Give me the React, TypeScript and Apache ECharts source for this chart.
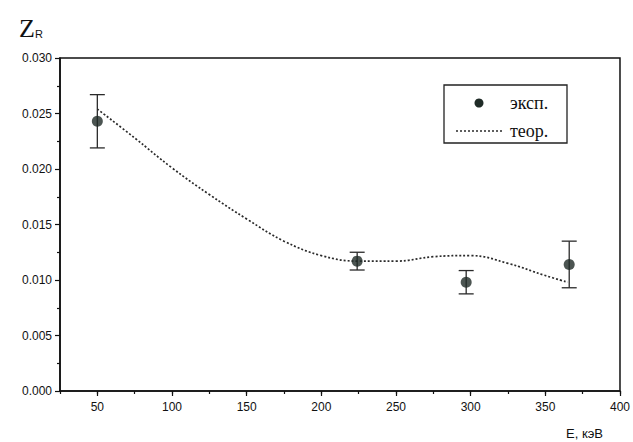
import React, { useEffect, useRef } from "react";
import * as echarts from "echarts";

const expE = [50, 224, 297, 366];
const expZ = [0.0243, 0.0117, 0.0098, 0.0114];
const expErr = [0.0024, 0.0008, 0.00105, 0.0021];

const theoE = [50, 75, 100, 125, 150, 175, 200, 225, 250, 275, 300, 325, 350, 365];
const theoZ = [0.0254, 0.0228, 0.0201, 0.0177, 0.0155, 0.0135, 0.0122, 0.0117, 0.0117, 0.0121, 0.0122, 0.0115, 0.0104, 0.0098];

const xMajorTicks = [50, 100, 150, 200, 250, 300, 350, 400];

const legendExp = "эксп.";
const legendTheo = "теор.";
const xName = "E, кэВ";

export default function App() {
  const ref = useRef<HTMLDivElement>(null);
  useEffect(() => {
    if (!ref.current) return;
    const chart = echarts.init(ref.current, null, { renderer: "svg" });
    const axisFont = { fontFamily: "Liberation Sans, Arial, sans-serif", fontSize: 12, color: "#111" };
    chart.setOption({
      animation: false,
      backgroundColor: "#fff",
      grid: {
        left: 60,
        right: 13,
        top: 58,
        bottom: 51,
        show: true,
        borderColor: "#111",
        borderWidth: 1.5,
        backgroundColor: "transparent",
      },
      xAxis: [
        {
          type: "value",
          min: 25,
          max: 400,
          axisLine: { show: true, lineStyle: { color: "#111", width: 1.6 } },
          axisTick: { show: true, length: 5, customValues: xMajorTicks, lineStyle: { color: "#111", width: 1.2 } },
          axisLabel: { ...axisFont, margin: 10, customValues: xMajorTicks },
          splitLine: { show: false },
        },
        {
          type: "value",
          min: 25,
          max: 400,
          interval: 25,
          position: "bottom",
          axisLine: { show: false },
          axisTick: { show: true, length: 3, lineStyle: { color: "#111", width: 1.2 } },
          axisLabel: { show: false },
          splitLine: { show: false },
        },
      ],
      yAxis: {
        type: "value",
        min: 0,
        max: 0.03,
        interval: 0.005,
        axisLine: { show: true, lineStyle: { color: "#111", width: 1.6 } },
        axisTick: { show: true, length: 5, lineStyle: { color: "#111", width: 1.2 } },
        minorTick: { show: true, splitNumber: 2, length: 3, lineStyle: { color: "#111", width: 1.2 } },
        axisLabel: { ...axisFont, margin: 8, formatter: (v: number) => v.toFixed(3) },
        splitLine: { show: false },
      },
      series: [
        {
          name: legendTheo,
          type: "line",
          data: theoE.map((e, i) => [e, theoZ[i]]),
          smooth: 0.4,
          showSymbol: false,
          lineStyle: { color: "#2a2a2a", width: 1.7, type: [2, 2] },
          z: 2,
        },
        {
          name: "err",
          type: "custom",
          data: expE.map((e, i) => [e, expZ[i], expErr[i]]),
          renderItem: (params: any, api: any) => {
            const x = api.value(0);
            const y = api.value(1);
            const err = api.value(2);
            const top = api.coord([x, y + err]);
            const bot = api.coord([x, y - err]);
            const hw = 7.5;
            const style = { stroke: "#2a2a2a", lineWidth: 1.3 };
            return {
              type: "group",
              children: [
                { type: "line", shape: { x1: top[0], y1: top[1], x2: bot[0], y2: bot[1] }, style },
                { type: "line", shape: { x1: top[0] - hw, y1: top[1], x2: top[0] + hw, y2: top[1] }, style },
                { type: "line", shape: { x1: bot[0] - hw, y1: bot[1], x2: bot[0] + hw, y2: bot[1] }, style },
              ],
            };
          },
          z: 3,
        },
        {
          name: legendExp,
          type: "scatter",
          data: expE.map((e, i) => [e, expZ[i]]),
          symbol: "circle",
          symbolSize: 11,
          itemStyle: { color: "#1f2b27" },
          z: 4,
        },
      ],
      graphic: [
        {
          type: "text",
          left: 19,
          top: 15,
          style: {
            text: "{z|Z}{r|R}",
            rich: {
              z: { fontFamily: "Liberation Serif, serif", fontSize: 26, fill: "#111" },
              r: { fontFamily: "Liberation Sans, sans-serif", fontSize: 11, fill: "#111", padding: [11, 0, 0, 0] },
            },
          },
        },
        {
          type: "text",
          left: 566,
          top: 427,
          style: { text: xName, fontFamily: "Liberation Sans, Arial, sans-serif", fontSize: 13, fill: "#111" },
        },
        {
          type: "rect",
          shape: { x: 444, y: 85, width: 123, height: 58 },
          style: { fill: "#fff", stroke: "#222", lineWidth: 1.3 },
          z: 10,
        },
        {
          type: "circle",
          shape: { cx: 479, cy: 103, r: 4.5 },
          style: { fill: "#1f2b27" },
          z: 11,
        },
        {
          type: "line",
          shape: { x1: 456, y1: 131, x2: 502, y2: 131 },
          style: { stroke: "#2a2a2a", lineWidth: 1.6, lineDash: [2, 2] },
          z: 11,
        },
        {
          type: "text",
          x: 510,
          y: 103,
          style: { text: legendExp, fontFamily: "Liberation Serif, serif", fontSize: 18, fill: "#111", verticalAlign: "middle" },
          z: 11,
        },
        {
          type: "text",
          x: 510,
          y: 131,
          style: { text: legendTheo, fontFamily: "Liberation Serif, serif", fontSize: 18, fill: "#111", verticalAlign: "middle" },
          z: 11,
        },
      ],
    });
    return () => chart.dispose();
  }, []);
  return <div ref={ref} style={{ width: 633, height: 442, position: "absolute", left: 0, top: 0 }} />;
}
